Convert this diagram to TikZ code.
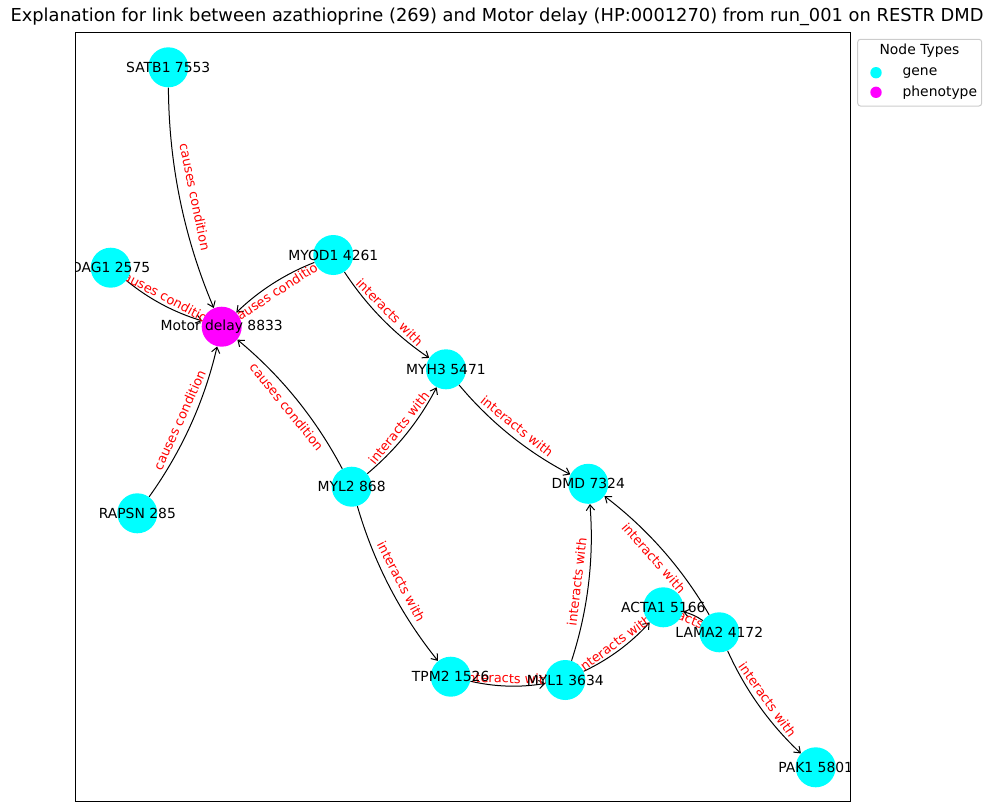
\documentclass[tikz,border=0pt]{standalone}
\usepackage{fontspec}
\setmainfont{DejaVu Sans}
\usetikzlibrary{arrows.meta}
\definecolor{genecol}{RGB}{0,255,255}
\definecolor{phenocol}{RGB}{255,0,255}
\definecolor{elabelcol}{RGB}{255,0,0}
\definecolor{legendedge}{RGB}{204,204,204}
\pgfdeclarelayer{links}
\pgfsetlayers{links,main}
\begin{document}
\begin{tikzpicture}[x=0.72pt,y=-0.72pt,
  gene/.style={circle,fill=genecol,draw=none,minimum size=28.8pt,inner sep=0pt},
  pheno/.style={circle,fill=phenocol,draw=none,minimum size=28.8pt,inner sep=0pt},
  lbl/.style={font=\fontsize{10}{12}\selectfont,text=black,inner sep=0pt},
  edge/.style={draw=black,line width=0.72pt,-{Straight Barb[length=4pt,width=6pt]},
    bend right=11.3,looseness=0.87},
  elabel/.style={sloped,midway,text=elabelcol,font=\fontsize{9.3}{11}\selectfont,inner sep=0pt},
  legendbox/.style={draw=legendedge,fill=white,rounded corners=2pt,line width=0.72pt},
  legdot/.style={circle,minimum size=8.2pt,inner sep=0pt,draw=none}]
\useasboundingbox (0,0) rectangle (991,812);

% title
\node[font=\fontsize{12.85}{15}\selectfont] (title) at (497,16.5) {Explanation for link between azathioprine (269) and Motor delay (HP:0001270) from run\_001 on RESTR DMD};

\begin{scope}
\clip (75.3,32.7) rectangle (850.3,801.7);
% nodes (circles lie above the links and their labels)
\node[gene]  (satb1) at (168.3,67.3)  {};
\node[gene]  (dag1)  at (110.7,267.7) {};
\node[gene]  (myod1) at (333.3,255.0) {};
\node[pheno] (motor) at (221.7,326.7) {};
\node[gene]  (myh3)  at (446.0,369.3) {};
\node[gene]  (rapsn) at (137.3,513.3) {};
\node[gene]  (myl2)  at (351.7,486.7) {};
\node[gene]  (dmd)   at (588.3,483.8) {};
\node[gene]  (acta1) at (663.3,607.3) {};
\node[gene]  (lama2) at (719.3,632.3) {};
\node[gene]  (tpm2)  at (450.7,676.7) {};
\node[gene]  (myl1)  at (565.3,680.0) {};
\node[gene]  (pak1)  at (815.7,767.3) {};

% node labels
\node[lbl] (satb1-t) at (satb1) {SATB1 7553};
\node[lbl] (dag1-t)  at (dag1)  {DAG1 2575};
\node[lbl] (myod1-t) at (myod1) {MYOD1 4261};
\node[lbl] (motor-t) at (motor) {Motor delay 8833};
\node[lbl] (myh3-t)  at (myh3)  {MYH3 5471};
\node[lbl] (rapsn-t) at (rapsn) {RAPSN 285};
\node[lbl] (myl2-t)  at (myl2)  {MYL2 868};
\node[lbl] (dmd-t)   at (dmd)   {DMD 7324};
\node[lbl] (acta1-t) at (acta1) {ACTA1 5166};
\node[lbl] (lama2-t) at (lama2) {LAMA2 4172};
\node[lbl] (tpm2-t)  at (tpm2)  {TPM2 1526};
\node[lbl] (myl1-t)  at (myl1)  {MYL1 3634};
\node[lbl] (pak1-t)  at (pak1)  {PAK1 5801};
\end{scope}

\begin{pgfonlayer}{links}
% connectors
\draw[edge] (satb1) to (motor);
\draw[edge] (dag1)  to (motor);
\draw[edge] (myod1) to (motor);
\draw[edge] (rapsn) to (motor);
\draw[edge] (myl2)  to (motor);
\draw[edge] (myod1) to (myh3);
\draw[edge] (myl2)  to (myh3);
\draw[edge] (myh3)  to (dmd);
\draw[edge] (myl2)  to (tpm2);
\draw[edge] (tpm2)  to (myl1);
\draw[edge] (myl1)  to (dmd);
\draw[edge] (myl1)  to (acta1);
\draw[edge] (lama2) to (dmd);
\draw[edge] (lama2) to (acta1);
\draw[edge] (lama2) to (pak1);

% connector labels
\path (satb1) -- node[elabel] {causes condition} (motor);
\path (dag1)  -- node[elabel] {causes condition} (motor);
\path (myod1) -- node[elabel] {causes condition} (motor);
\path (rapsn) -- node[elabel] {causes condition} (motor);
\path (myl2)  -- node[elabel] {causes condition} (motor);
\path (myod1) -- node[elabel] {interacts with} (myh3);
\path (myl2)  -- node[elabel] {interacts with} (myh3);
\path (myh3)  -- node[elabel] {interacts with} (dmd);
\path (myl2)  -- node[elabel] {interacts with} (tpm2);
\path (tpm2)  -- node[elabel] {interacts with} (myl1);
\path (myl1)  -- node[elabel] {interacts with} (dmd);
\path (myl1)  -- node[elabel] {interacts with} (acta1);
\path (lama2) -- node[elabel] {interacts with} (dmd);
\path (lama2) -- node[elabel] {interacts with} (acta1);
\path (lama2) -- node[elabel] {interacts with} (pak1);
\end{pgfonlayer}

% plot frame
\draw[line width=0.8pt] (75.3,32.7) rectangle (850.3,801.7);

% legend
\draw[legendbox] (857.7,39.3) rectangle (981.7,106);
\node[lbl] (legtitle) at (919.5,50.7) {Node Types};
\node[legdot,fill=genecol]  (legdot1) at (876,72.7) {};
\node[legdot,fill=phenocol] (legdot2) at (876,92.3) {};
\node[lbl,anchor=west] (legtext1) at (902.3,72.7) {gene};
\node[lbl,anchor=west] (legtext2) at (902.3,92.3) {phenotype};
\end{tikzpicture}
\end{document}
